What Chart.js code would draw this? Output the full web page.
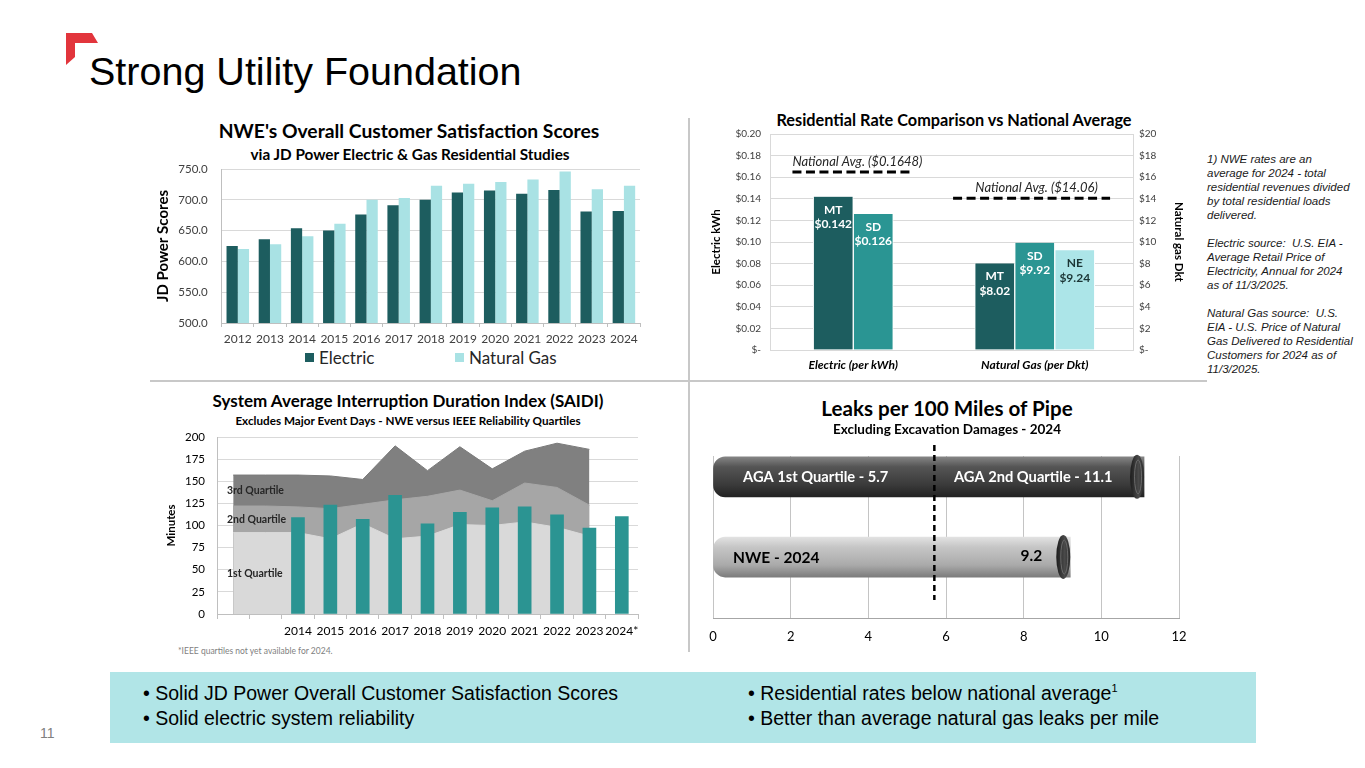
<!DOCTYPE html>
<html>
<head>
<meta charset="utf-8">
<title>Strong Utility Foundation</title>
<script src="https://cdn.jsdelivr.net/npm/chart.js@4.4.1/dist/chart.umd.min.js"></script>
<style>
  html, body { margin: 0; padding: 0; background: #fff; }
  body { width: 1365px; height: 768px; position: relative; overflow: hidden; font-family: "Liberation Sans", Arial, sans-serif; }
  .abs { position: absolute; }
  .ct { position: absolute; width: 600px; text-align: center; white-space: nowrap; font-family: Lato, "Open Sans", sans-serif; font-weight: bold; color: #000; line-height: 1.2; }
  .box { position: absolute; }
  .legend { position: absolute; font-family: Lato, sans-serif; font-size: 17px; color: #262626; line-height: 20px; white-space: nowrap; }
  .legend i { display: inline-block; width: 9px; height: 9px; margin-right: 5px; vertical-align: 2px; }
  .notes { position: absolute; left: 1207px; top: 152px; font-size: 11.5px; font-style: italic; line-height: 14px; color: #1a1a1a; white-space: nowrap; }
  .footer { position: absolute; left: 110px; top: 672px; width: 1146px; height: 71px; background: #b1e5e7; }
  .fline { position: absolute; font-size: 19.5px; line-height: 25px; color: #000; white-space: nowrap; }
</style>
</head>
<body>

<svg class="abs" style="left:0;top:0" width="120" height="80">
  <polygon points="66,33 92,33 98,43 75,43 75,57 66,65" fill="#e2353c"/>
</svg>
<div class="abs" style="left:89px;top:49px;font-size:39.5px;line-height:44px;color:#000;white-space:nowrap;">Strong Utility Foundation</div>

<div class="abs" style="left:688px;top:118px;width:2px;height:534px;background:#c8c8c8;"></div>
<div class="abs" style="left:150px;top:380px;width:1057px;height:2px;background:#c8c8c8;"></div>

<!-- top left -->
<div class="ct" style="left:109px;top:119px;font-size:19.3px;">NWE's Overall Customer Satisfaction Scores</div>
<div class="ct" style="left:110px;top:145px;font-size:15.3px;">via JD Power Electric &amp; Gas Residential Studies</div>
<div class="box" style="left:150px;top:159px;width:500px;height:188px;"><canvas id="satChart"></canvas></div>
<div class="legend" style="left:305px;top:348px;"><i style="background:#1d5d5f"></i>Electric</div>
<div class="legend" style="left:455px;top:348px;"><i style="background:#a9e2e4"></i>Natural Gas</div>

<!-- top right -->
<div class="ct" style="left:654px;top:110px;font-size:16.3px;">Residential Rate Comparison vs National Average</div>
<div class="box" style="left:705px;top:124px;width:485px;height:250px;"><canvas id="rateChart"></canvas></div>
<div class="notes">1) NWE rates are an<br>average for 2024 - total<br>residential revenues divided<br>by total residential loads<br>delivered.<br><br>Electric source:&nbsp; U.S. EIA -<br>Average Retail Price of<br>Electricity, Annual for 2024<br>as of 11/3/2025.<br><br>Natural Gas source:&nbsp; U.S.<br>EIA - U.S. Price of Natural<br>Gas Delivered to Residential<br>Customers for 2024 as of<br>11/3/2025.</div>

<!-- bottom left -->
<div class="ct" style="left:108px;top:391px;font-size:17px;">System Average Interruption Duration Index (SAIDI)</div>
<div class="ct" style="left:108px;top:413px;font-size:11.7px;">Excludes Major Event Days - NWE versus IEEE Reliability Quartiles</div>
<div class="box" style="left:160px;top:427px;width:500px;height:213px;"><canvas id="saidiChart"></canvas></div>
<div class="abs" style="left:178px;top:646px;font-family:Lato,sans-serif;font-size:8.5px;color:#7f7f7f;white-space:nowrap;">*IEEE quartiles not yet available for 2024.</div>

<!-- bottom right -->
<div class="ct" style="left:647px;top:396px;font-size:20.6px;">Leaks per 100 Miles of Pipe</div>
<div class="ct" style="left:647px;top:421px;font-size:13.5px;">Excluding Excavation Damages - 2024</div>
<div class="box" style="left:693px;top:442px;width:496px;height:202px;"><canvas id="leakChart"></canvas></div>

<div class="footer"></div>
<div class="fline" style="left:143px;top:681px;">• Solid JD Power Overall Customer Satisfaction Scores</div>
<div class="fline" style="left:143px;top:706px;">• Solid electric system reliability</div>
<div class="fline" style="left:748px;top:681px;">• Residential rates below national average<sup style="font-size:11px;vertical-align:8px;line-height:0">1</sup></div>
<div class="fline" style="left:748px;top:706px;">• Better than average natural gas leaks per mile</div>
<div class="abs" style="left:40px;top:725px;font-size:14px;color:#808080;">11</div>

<script>
// ---- data ----
const satYears = ['2012', '2013', '2014', '2015', '2016', '2017', '2018', '2019', '2020', '2021', '2022', '2023', '2024'];
const satElectric = [625, 636, 654, 650, 676, 691, 700, 712, 715, 710, 716, 681, 682];
const satGas = [620, 628, 641, 661, 700, 703, 723, 726, 729, 733, 746, 717, 723];
const satAxis = [500, 750, 50];

const rateGroups = ['Electric (per kWh)', 'Natural Gas (per Dkt)'];
const electricStates = ['MT', 'SD'];
const electricRates = [0.142, 0.126];
const gasStates = ['MT', 'SD', 'NE'];
const gasRates = [8.02, 9.92, 9.24];
const electricNatAvg = 0.1648;
const gasNatAvg = 14.06;
const electricAxis = [0, 0.20, 0.02];
const gasAxis = [0, 20, 2];

const saidiYears = ['', '', '2014', '2015', '2016', '2017', '2018', '2019', '2020', '2021', '2022', '2023', '2024*'];
const saidiNwe = [null, null, 109, 123, 107, 134, 102, 115, 120, 121, 112, 97, 110];
const saidiQ1 = [92, 92, 92, 85, 102, 85, 88, 101, 100, 104, 98, 88, null];
const saidiQ2 = [122, 122, 121, 119, 124, 129, 133, 140, 128, 148, 143, 123, null];
const saidiQ3 = [157, 157, 157, 156, 152, 190, 162, 189, 164, 184, 193, 186, null];
const saidiAxis = [0, 200, 25];

const leakNames = ['AGA', 'NWE - 2024'];
const leakValues = [11.1, 9.2];
const agaFirstQuartile = 5.7;
const leakAxis = [0, 12, 2];

// ---- styles ----
const F = 'Lato, "Open Sans", sans-serif';
const DARK = '#1d5d5f';
const TEAL = '#2a9593';
const LIGHT = '#a9e2e4';
const GRID = '#d9d9d9';
const AXIS = '#bfbfbf';
const TICK = '#404040';

Chart.defaults.font.family = F;
Chart.defaults.animation = false;
Chart.defaults.plugins.legend.display = false;
Chart.defaults.plugins.tooltip.enabled = false;
Chart.defaults.responsive = true;
Chart.defaults.maintainAspectRatio = false;

// fixed axis sizes so the plot areas line up with the slide
const fitY = w => s => { s.width = w; s.paddingTop = 0; s.paddingBottom = 0; };
const fitX = h => s => { s.height = h; s.paddingLeft = 0; s.paddingRight = 0; };

// ---- chart 1: JD Power ----
new Chart(document.getElementById('satChart'), {
  type: 'bar',
  data: {
    labels: satYears,
    datasets: [
      { label: 'Electric', data: satElectric, backgroundColor: DARK },
      { label: 'Natural Gas', data: satGas, backgroundColor: LIGHT }
    ]
  },
  options: {
    layout: { padding: { left: 0, right: 10, top: 10, bottom: 0 } },
    datasets: { bar: { categoryPercentage: 0.7, barPercentage: 1 } },
    scales: {
      x: {
        afterFit: fitX(24),
        grid: { drawOnChartArea: false, offset: true, tickLength: 4, color: AXIS },
        border: { color: AXIS },
        ticks: { font: { size: 12 }, color: TICK, padding: 5, maxRotation: 0, autoSkip: false }
      },
      y: {
        min: satAxis[0], max: satAxis[1],
        afterFit: fitY(71.7),
        ticks: { stepSize: satAxis[2], callback: v => v.toFixed(1), font: { size: 11.5 }, color: TICK, padding: 14 },
        grid: { color: GRID, drawTicks: false },
        border: { color: AXIS },
        title: { display: true, text: 'JD Power Scores', font: { size: 15, weight: 'bold' }, color: '#000', padding: 4 }
      }
    }
  }
});

// ---- chart 2: residential rates ----
const rateLabelPlugin = {
  id: 'rateLabels',
  afterLayout(chart) {
    // the slide's bar groups sit a little left of the category centres
    const s = chart.scales.x;
    s._startPixel -= 7.5;
    s._endPixel -= 7.5;
  },
  afterDatasetsDraw(chart) {
    const c = chart.ctx;
    c.save();
    c.font = 'bold 12px ' + F;
    c.textAlign = 'center';
    c.textBaseline = 'middle';
    chart.data.datasets.forEach((ds, i) => {
      chart.getDatasetMeta(i).data.forEach((bar, j) => {
        const v = ds.data[j];
        if (v === null) return;
        c.fillStyle = ds.textColor;
        c.fillText(ds.label, bar.x, bar.y + 13);
        c.fillText('$' + v.toFixed(ds.digits), bar.x, bar.y + 27.5);
      });
    });
    // national average lines
    const x = chart.scales.x;
    const band = x.getPixelForValue(1) - x.getPixelForValue(0);
    const avgs = [
      { v: electricNatAvg, axis: 'y', idx: 0, span: [-0.335, 0.31], align: 'left', text: 'National Avg. ($' + electricNatAvg.toFixed(4) + ')' },
      { v: gasNatAvg, axis: 'y2', idx: 1, span: [-0.45, 0.415], align: 'center', text: 'National Avg. ($' + gasNatAvg.toFixed(2) + ')' }
    ];
    avgs.forEach(a => {
      const y = chart.scales[a.axis].getPixelForValue(a.v);
      const cx = x.getPixelForValue(a.idx);
      const x0 = cx + a.span[0] * band, x1 = cx + a.span[1] * band;
      c.strokeStyle = '#000';
      c.lineWidth = 3;
      c.setLineDash([9, 4.5]);
      c.beginPath();
      c.moveTo(x0, y);
      c.lineTo(x1, y);
      c.stroke();
      c.setLineDash([]);
      c.fillStyle = '#262626';
      c.font = 'italic 13px ' + F;
      c.textBaseline = 'alphabetic';
      c.textAlign = a.align;
      c.fillText(a.text, a.align === 'left' ? x0 : (x0 + x1) / 2 + 5, y - 6);
    });
    c.restore();
  }
};

const rateSets = [];
electricStates.forEach((s, i) => rateSets.push({
  label: s, data: [electricRates[i], null], yAxisID: 'y', digits: 3,
  backgroundColor: [DARK, TEAL][i], textColor: '#fff'
}));
gasStates.forEach((s, i) => rateSets.push({
  label: s, data: [null, gasRates[i]], yAxisID: 'y2', digits: 2,
  backgroundColor: [DARK, TEAL, '#ace5e8'][i], textColor: i === 2 ? '#1b3535' : '#fff'
}));

new Chart(document.getElementById('rateChart'), {
  type: 'bar',
  data: { labels: rateGroups, datasets: rateSets },
  options: {
    layout: { padding: { left: 0, right: 0, top: 10, bottom: 0 } },
    datasets: { bar: { skipNull: true, barThickness: 40, borderColor: '#fff', borderWidth: { left: 1, right: 1, top: 0, bottom: 0 } } },
    scales: {
      x: {
        afterFit: fitX(24),
        grid: { display: false, drawTicks: false },
        border: { color: GRID },
        ticks: { font: { size: 12, weight: 'bold', style: 'italic' }, color: '#000', padding: 8 }
      },
      y: {
        position: 'left', min: electricAxis[0], max: electricAxis[1],
        afterFit: fitY(65),
        ticks: { stepSize: electricAxis[2], callback: v => v === 0 ? '$-' : '$' + v.toFixed(2), font: { size: 10 }, color: TICK, padding: 9 },
        grid: { color: GRID, drawTicks: false },
        border: { color: GRID },
        title: { display: true, text: 'Electric kWh', font: { size: 11.5, weight: 'bold' }, color: '#000', padding: 4 }
      },
      y2: {
        position: 'right', min: gasAxis[0], max: gasAxis[1],
        afterFit: fitY(57),
        ticks: { stepSize: gasAxis[2], callback: v => v === 0 ? '$-' : '$' + v, font: { size: 10 }, color: TICK, padding: 6 },
        grid: { drawOnChartArea: false, drawTicks: false },
        border: { color: GRID },
        title: { display: true, text: 'Natural gas Dkt', font: { size: 11.5, weight: 'bold' }, color: '#000', padding: 4 }
      }
    }
  },
  plugins: [rateLabelPlugin]
});

// ---- chart 3: SAIDI ----
const quartilePlugin = {
  id: 'quartileLabels',
  afterDatasetsDraw(chart) {
    const c = chart.ctx, y = chart.scales.y;
    const bands = [[0, saidiQ1[0], '1st Quartile'], [saidiQ1[0], saidiQ2[0], '2nd Quartile'], [saidiQ2[0], saidiQ3[0], '3rd Quartile']];
    c.save();
    c.font = 'bold 10.5px ' + F;
    c.fillStyle = '#262626';
    c.textBaseline = 'middle';
    bands.forEach(b => c.fillText(b[2], chart.chartArea.left + 10, y.getPixelForValue((b[0] + b[1]) / 2)));
    c.restore();
  }
};

new Chart(document.getElementById('saidiChart'), {
  data: {
    labels: saidiYears,
    datasets: [
      { type: 'bar', label: 'NWE', data: saidiNwe, backgroundColor: '#2b9492', barThickness: 13, order: 0 },
      { type: 'line', label: '1st Quartile', data: saidiQ1, fill: 'origin', backgroundColor: '#d9d9d9', borderColor: '#d9d9d9', borderWidth: 1, pointRadius: 0, order: 1 },
      { type: 'line', label: '2nd Quartile', data: saidiQ2, fill: 'origin', backgroundColor: '#a6a6a6', borderColor: '#a6a6a6', borderWidth: 1, pointRadius: 0, order: 2 },
      { type: 'line', label: '3rd Quartile', data: saidiQ3, fill: 'origin', backgroundColor: '#808080', borderColor: '#7a7a7a', borderWidth: 1, pointRadius: 0, order: 3 }
    ]
  },
  options: {
    layout: { padding: { left: 0, right: 22, top: 10, bottom: 0 } },
    scales: {
      x: {
        offset: true,
        afterFit: fitX(26),
        grid: { drawOnChartArea: false, offset: true, tickLength: 5, color: AXIS },
        border: { color: AXIS },
        ticks: { font: { size: 12 }, color: '#000', padding: 5, maxRotation: 0, autoSkip: false }
      },
      y: {
        min: saidiAxis[0], max: saidiAxis[1],
        afterFit: fitY(57),
        ticks: { stepSize: saidiAxis[2], font: { size: 11.5 }, color: '#000', padding: 12 },
        grid: { color: GRID, drawTicks: false },
        border: { color: AXIS },
        title: { display: true, text: 'Minutes', font: { size: 11.5, weight: 'bold' }, color: '#000', padding: 4 }
      }
    }
  },
  plugins: [quartilePlugin]
});

// ---- chart 4: leaks ----
const pipeShades = [
  ['#858585', '#555555', '#3a3a3a', '#222222'],
  ['#e2e2e2', '#c6c6c6', '#aaaaaa', '#7c7c7c']
];
const pipePlugin = {
  id: 'pipes',
  afterDatasetsDraw(chart) {
    const c = chart.ctx, x = chart.scales.x, area = chart.chartArea;
    const bars = chart.getDatasetMeta(0).data;
    c.save();
    // pipe end caps
    bars.forEach(bar => {
      const cx = bar.x - 7;
      const g = c.createLinearGradient(cx - 7, 0, cx + 7, 0);
      g.addColorStop(0, '#1c1c1c');
      g.addColorStop(0.6, '#4a4a4a');
      g.addColorStop(1, '#2a2a2a');
      c.fillStyle = g;
      c.beginPath();
      c.ellipse(cx, bar.y, 7, 22, 0, 0, Math.PI * 2);
      c.fill();
      c.strokeStyle = '#6a6a6a';
      c.lineWidth = 1;
      c.beginPath();
      c.ellipse(cx + 1, bar.y, 3.5, 17, 0, 0, Math.PI * 2);
      c.stroke();
    });
    // labels
    const q = x.getPixelForValue(agaFirstQuartile);
    c.textBaseline = 'middle';
    c.font = 'bold 14.7px ' + F;
    c.fillStyle = '#fff';
    c.textAlign = 'left';
    c.fillText('AGA 1st Quartile - ' + agaFirstQuartile, area.left + 30, bars[0].y);
    c.textAlign = 'center';
    c.fillText('AGA 2nd Quartile - ' + leakValues[0], (q + bars[0].x) / 2 - 6, bars[0].y);
    c.font = 'bold 15.5px ' + F;
    c.fillStyle = '#000';
    c.textAlign = 'left';
    c.fillText(leakNames[1], area.left + 20, bars[1].y + 1);
    c.textAlign = 'right';
    c.fillText(leakValues[1].toFixed(1), bars[1].x - 28, bars[1].y - 1);
    // first quartile marker
    c.strokeStyle = '#000';
    c.lineWidth = 2.5;
    c.setLineDash([6, 4]);
    c.beginPath();
    c.moveTo(q, area.top - 11);
    c.lineTo(q, area.bottom - 18);
    c.stroke();
    c.restore();
  }
};

new Chart(document.getElementById('leakChart'), {
  type: 'bar',
  data: {
    datasets: [{
      label: 'Leaks',
      data: leakValues.map((v, i) => ({ x: v, y: i })),
      barThickness: 40,
      borderSkipped: false,
      borderWidth: 0,
      borderRadius: { topLeft: 12, bottomLeft: 12, topRight: 0, bottomRight: 0 },
      backgroundColor: ctx => {
        const chart = ctx.chart;
        const shades = pipeShades[ctx.dataIndex] || pipeShades[0];
        if (!chart.chartArea || ctx.type !== 'data') return shades[1];
        const yc = chart.scales.y.getPixelForValue(ctx.dataIndex);
        const g = chart.ctx.createLinearGradient(0, yc - 20, 0, yc + 20);
        g.addColorStop(0, shades[0]);
        g.addColorStop(0.25, shades[1]);
        g.addColorStop(0.7, shades[2]);
        g.addColorStop(1, shades[3]);
        return g;
      }
    }]
  },
  options: {
    indexAxis: 'y',
    layout: { padding: { left: 20, right: 10, top: 14, bottom: 0 } },
    scales: {
      x: {
        type: 'linear', min: leakAxis[0], max: leakAxis[1],
        afterFit: fitX(26),
        ticks: { stepSize: leakAxis[2], font: { size: 13 }, color: '#000', padding: 11 },
        grid: { color: '#c4c4c4', drawTicks: false },
        border: { color: '#a6a6a6' }
      },
      y: {
        type: 'linear', display: false, reverse: true, offset: false, grace: 0, bounds: 'data', min: -0.26, max: 1.76,
        afterFit: s => { s.paddingTop = 0; s.paddingBottom = 0; }
      }
    }
  },
  plugins: [pipePlugin]
});
</script>
</body>
</html>
